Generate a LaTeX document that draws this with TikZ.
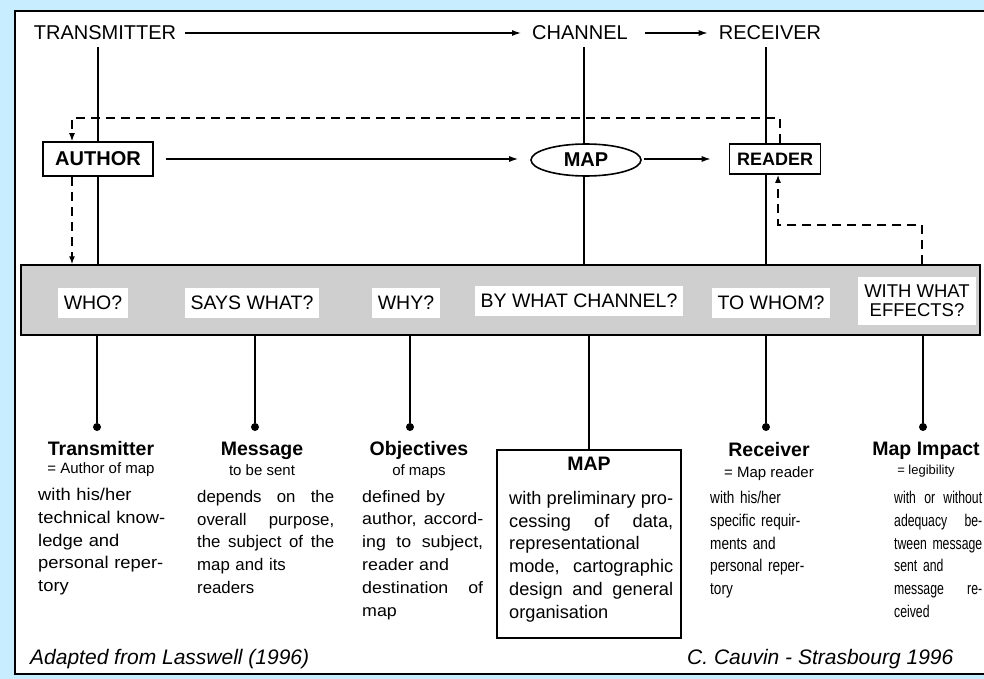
\documentclass[tikz,border=0pt]{standalone}
\usepackage{fontspec}
\setmainfont{Liberation Sans}
\newfontfamily\narrowfont[FakeStretch=0.8]{Liberation Sans}
\newfontfamily\tightfont[FakeStretch=0.72]{Liberation Sans}
\newfontfamily\widefont[FakeStretch=1.08]{Liberation Sans}
\usetikzlibrary{positioning}
\usetikzlibrary{arrows.meta}
\usetikzlibrary{shapes.geometric}
\definecolor{skyback}{RGB}{200,237,255}
\newlength{\colw}
\newcommand{\fullline}[1]{\leavevmode\hbox to \colw{\spaceskip=0pt\xspaceskip=0pt\relax #1}}
\tikzset{
  toplabel/.style= {
    font = \fontsize{20}{22}\selectfont,
    inner sep = 7pt
  },
  flowarrow/.style= {
    -{Latex[length=9pt,width=6pt]},
    line width = 1.3pt
  },
  feedback/.style= {
    -{Latex[length=8pt,width=6pt]},
    dash pattern = on 9pt off 6pt,
    line width = 1.4pt
  },
  stem/.style= {
    line width = 1.8pt
  },
  actorbox/.style= {
    rectangle,
    draw,
    fill = white,
    line width = 1.6pt,
    font = \bfseries\fontsize{#1}{#1}\selectfont
  },
  question/.style= {
    fill = white,
    inner xsep = 6pt,
    inner ysep = 8pt,
    align = center,
    font = \fontsize{19.5}{20}\selectfont
  },
  enddot/.style= {
    circle,
    fill = black,
    inner sep = 0pt,
    minimum size = 8pt
  },
  coltitle/.style= {
    anchor = base,
    inner sep = 0pt,
    font = \bfseries\fontsize{19.5}{20}\selectfont
  },
  colsub/.style= {
    anchor = base,
    inner sep = 0pt,
    font = \fontsize{15}{16}\selectfont
  },
  colbody/.style= {
    anchor = north west,
    inner sep = 0pt,
    align = left,
    text width = #1,
    execute at begin node = {\setlength{\colw}{#1}},
    font = \fontsize{17}{22.8}\selectfont
  },
  credit/.style= {
    anchor = base west,
    inner sep = 0pt,
    font = \itshape\fontsize{21}{22}\selectfont
  }
}

\begin{document}
\begin{tikzpicture}[x=1pt,y=-1pt]

  \useasboundingbox (0,0) rectangle (984,679);
  \clip (0,0) rectangle (984,679);
  \fill[skyback] (0,0) rectangle (984,679);
  \filldraw[fill=white,line width=2.5pt] (15,11) rectangle (1000,674);

  % top row
  \node[toplabel] (tx) at (105,33) {TRANSMITTER};
  \node[toplabel] (ch) at (580,33) {CHANNEL};
  \node[toplabel] (rx) at (770,33) {RECEIVER};
  \draw[flowarrow,shorten <=2pt,shorten >=4pt] (tx) -- (ch);
  \draw[flowarrow,shorten <=10pt,shorten >=4pt] (ch) -- (rx);

  % actors
  \node[actorbox=20,minimum width=110pt,minimum height=34pt] (author) at (98,159) {AUTHOR};
  \node[actorbox=20,ellipse,minimum width=110pt,minimum height=32pt,inner sep=0pt] (mapel) at (586,160) {MAP};
  \node[actorbox=18,minimum width=91pt,minimum height=30pt] (reader) at (775,159) {READER};
  \draw[flowarrow,shorten <=12pt,shorten >=12pt] (author.east) -- (author.east -| mapel.west);
  \draw[flowarrow,shorten <=2pt,shorten >=18pt] (mapel.east |- reader.west) -- (reader.west);

  % Lasswell questions
  \node[draw,fill=black!19,line width=1.4pt,minimum width=959pt,minimum height=70pt,inner sep=0pt] (band) at (500.5,300) {};
  \node[question] (qwho) at (93,303) {WHO?};
  \node[question] (qwhat) at (252,303) {SAYS WHAT?};
  \node[question] (qwhy) at (406,303) {WHY?};
  \node[question] (qchan) at (579,301) {BY WHAT CHANNEL?};
  \node[question] (qwhom) at (771,303) {TO WHOM?};
  \node[question,font=\fontsize{18.5}{19}\selectfont] (qeff) at (917,301) {WITH WHAT\\EFFECTS?};

  % vertical links
  \draw[stem] (tx.south -| author) -- (author.north);
  \draw[stem] (author.south) -- (band.north -| author);
  \draw[stem] (ch.south -| 584,0) -- (mapel.north -| 584,0);
  \draw[stem] (mapel.south -| 584,0) -- (band.north -| 584,0);
  \draw[stem] (rx.south -| 766,0) -- (reader.north -| 766,0);
  \draw[stem] (reader.south -| 766,0) -- (band.north -| 766,0);

  % feedback loops
  \coordinate (fbA) at (780,118);
  \coordinate (fbB) at (72,118);
  \coordinate (fbC) at (922,225);
  \coordinate (fbD) at (778,225);
  \draw[feedback] (reader.north -| fbA) -- (fbA) -- (fbB) -- (author.north -| fbB);
  \draw[feedback] (author.south -| fbB) -- (band.north -| fbB);
  \draw[feedback] (band.north -| fbC) -- (fbC) -- (fbD) -- (reader.south -| fbD);

  % columns
  \node[enddot] (dwho) at (97,427) {};
  \node[enddot] (dwhat) at (255,427) {};
  \node[enddot] (dwhy) at (410,427) {};
  \node[enddot] (dwhom) at (766,427) {};
  \node[enddot] (deff) at (923,427) {};
  \node[draw,line width=1.8pt,minimum width=184pt,minimum height=188pt] (mapbox) at (589,544) {};
  \foreach \d in {dwho,dwhat,dwhy,dwhom,deff}
    \draw[stem] (band.south -| \d) -- (\d);
  \draw[stem] (band.south -| mapbox) -- (mapbox.north);

  \node[coltitle] (ttx) at (101,455) {Transmitter};
  \node[colsub] at (101,473) {= Author of map};
  \node[colbody=135pt,font=\widefont\fontsize{17}{22.8}\selectfont] at (38,488) {with his/her\\technical know-\\ledge and\\personal reper-\\tory};

  \node[coltitle] (tmsg) at (262,455) {Message};
  \node[colsub] at (262,475) {to be sent};
  \node[colbody=137pt,font=\fontsize{16.8}{22.8}\selectfont] at (197,490) {\fullline{depends on the}\\\fullline{overall purpose,}\\\fullline{the subject of the}\\map and its\\readers};

  \node[coltitle] (tobj) at (419,455) {Objectives};
  \node[colsub] at (419,475) {of maps};
  \node[colbody=121pt,font=\widefont\fontsize{16.5}{22.8}\selectfont] at (362,490) {defined by\\\fullline{author, accord-}\\\fullline{ing to subject,}\\reader and\\\fullline{destination of}\\map};

  \node[coltitle] (tmap) at (589,470) {MAP};
  \node[colbody=164pt,font=\fontsize{18.2}{22.8}\selectfont] at (509,491) {\fullline{with preliminary pro-}\\\fullline{cessing of data,}\\\fullline{representational}\\\fullline{mode, cartographic}\\\fullline{design and general}\\organisation};

  \node[coltitle] (trx) at (769,456) {Receiver};
  \node[colsub] at (769,477) {= Map reader};
  \node[colbody=100pt,font=\narrowfont\fontsize{17}{22.8}\selectfont] at (710,491) {with his/her\\specific requir-\\ments and\\personal reper-\\tory};

  \node[coltitle] (teff) at (926,455) {Map Impact};
  \node[colsub,font=\fontsize{13}{14}\selectfont] at (926,474) {= legibility};
  \node[colbody=88pt,font=\tightfont\fontsize{17}{22.8}\selectfont] at (894,491) {\fullline{with or without}\\\fullline{adequacy be-}\\\fullline{tween message}\\sent and\\\fullline{message re-}\\ceived};

  % credits
  \node[credit] at (30,664) {Adapted from Lasswell (1996)};
  \node[credit] at (687,664) {C. Cauvin - Strasbourg 1996};

\end{tikzpicture}
\end{document}
